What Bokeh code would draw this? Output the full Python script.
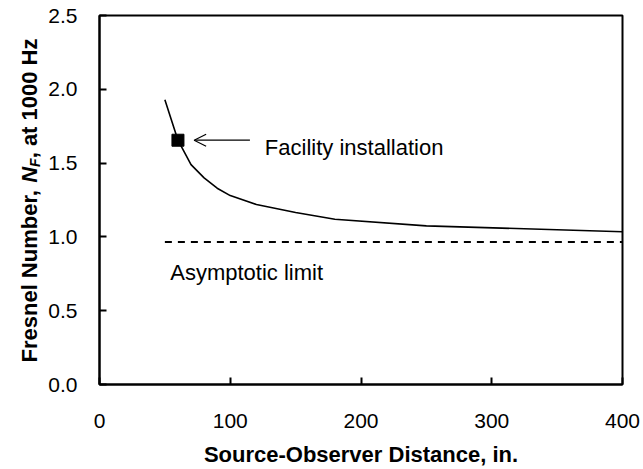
import math
from bokeh.plotting import figure
from bokeh.layouts import row
from bokeh.models import Label, Arrow, OpenHead, FixedTicker, Range1d
from bokeh.core.properties import value
from bokeh.embed import file_html
from bokeh.resources import INLINE

# ---- data ----
distance = [50, 60, 70, 80, 90, 100, 120, 150, 180, 250, 400]
fresnel = [1.93, 1.655, 1.49, 1.40, 1.33, 1.28, 1.22, 1.165, 1.12, 1.075, 1.035]
facility_x = [60]
facility_y = [1.655]
asym_x = [50, 400]
asym_y = [0.965, 0.965]
x_ticks = [0, 100, 200, 300, 400]
x_tick_labels = ["0", "100", "200", "300", "400"]
y_ticks = [0.0, 0.5, 1.0, 1.5, 2.0, 2.5]
y_tick_labels = ["0.0", "0.5", "1.0", "1.5", "2.0", "2.5"]

# ---- layout ----
TW = 45                      # width of the y-title strip
W, H = 643 - TW, 469
L, R, T, B = 97 - TW, 21, 15, 85
FW, FH = W - L - R, H - T - B
XMIN, XMAX, YMIN, YMAX = 0, 400, 0, 2.5
DX = (XMAX - XMIN) / FW
DY = (YMAX - YMIN) / FH
FONT = "Liberation Sans"


def ix(px):  # page x pixel -> data x
    return XMIN + (px - TW - L) * DX


def iy(py):  # page y pixel -> data y
    return YMIN + (T + FH - py) * DY


p = figure(width=W, height=H, x_range=Range1d(XMIN, XMAX), y_range=Range1d(YMIN, YMAX),
           output_backend="svg", toolbar_location=None, title=None,
           min_border_left=L, min_border_right=R, min_border_top=T, min_border_bottom=B)
p.background_fill_color = "white"
p.border_fill_color = "white"
p.outline_line_color = "black"
p.outline_line_width = 2
p.grid.visible = False

for ax in (p.xaxis[0], p.yaxis[0]):
    ax.axis_line_width = 2
    ax.axis_line_color = "black"
    ax.major_tick_line_width = 2
    ax.major_tick_line_color = "black"
    ax.minor_tick_line_color = None
    ax.major_tick_out = 0
    ax.major_tick_in = 7
    ax.major_label_text_font = FONT
    ax.major_label_text_font_size = "21px"
    ax.major_label_text_color = "black"

p.xaxis.ticker = FixedTicker(ticks=x_ticks)
p.xaxis.major_label_overrides = dict(zip(x_ticks, x_tick_labels))
p.xaxis.major_label_standoff = 29
p.xaxis.axis_label = "Source-Observer Distance, in."
p.xaxis.axis_label_text_font = FONT
p.xaxis.axis_label_text_font_size = "22px"
p.xaxis.axis_label_text_font_style = "bold"
p.xaxis.axis_label_text_color = "black"
p.xaxis.axis_label_standoff = 11
p.yaxis.ticker = FixedTicker(ticks=y_ticks)
p.yaxis.major_label_overrides = dict(zip(y_ticks, y_tick_labels))
p.yaxis.major_label_standoff = 22

# ---- glyphs ----
p.line(distance, fresnel, line_color="black", line_width=1.6)
p.line(asym_x, asym_y, line_color="black", line_width=2, line_dash="7 6")
p.scatter(facility_x, facility_y, marker="square", size=12, fill_color="black", line_color="black")

p.add_layout(Arrow(end=OpenHead(size=12, line_width=1.2, line_color="black"),
                   x_start=ix(248), y_start=facility_y[0], x_end=ix(192), y_end=facility_y[0],
                   line_width=1.2, line_color="black"))

p.add_layout(Label(x=ix(263), y=iy(147), text="Facility installation", text_font=FONT,
                   text_font_size="22px", text_align="left", text_baseline="alphabetic",
                   text_color="black"))
p.add_layout(Label(x=ix(168), y=iy(272), text="Asymptotic limit", text_font=FONT,
                   text_font_size="22px", text_align="left", text_baseline="alphabetic",
                   text_color="black"))

# ---- y title strip (rotated text in pieces, positioned by screen offsets) ----
tf = figure(frame_width=TW, frame_height=H, x_range=Range1d(0, TW), y_range=Range1d(0, H),
            output_backend="svg", toolbar_location=None, title=None,
            x_axis_location=None, y_axis_location=None,
            min_border_left=0, min_border_right=0, min_border_top=0, min_border_bottom=0)
tf.outline_line_color = None
tf.grid.visible = False
tf.background_fill_color = "white"
tf.border_fill_color = "white"

fs = 22
sub_fs = 14
pieces = [
    ("Fresnel Number, ", "bold", fs, 8169 * fs / 1000, 0),
    ("N", "bold italic", fs, 722 * fs / 1000, 0),
    ("F", "bold italic", sub_fs, 611 * sub_fs / 1000, 5),
    (", at 1000 Hz", "bold", fs, 5447 * fs / 1000, 0),
]
total = sum(pc[3] for pc in pieces)
center_y = 185              # page pixel (empirical anchor)
base_x = 29                 # page pixel (baseline)
cum = 0.0
for txt, style, size, width, shift in pieces:
    tf.text(x=[base_x], y=[H - center_y], text=[txt], angle=math.pi / 2,
            x_offset=shift, y_offset=total / 2 - cum,
            text_font=value(FONT), text_font_size=f"{size}px", text_font_style=style,
            text_align="left", text_baseline="alphabetic", text_color="black")
    cum += width

layout = row(tf, p, spacing=0)
open("out.html", "w").write(file_html(layout, INLINE))
